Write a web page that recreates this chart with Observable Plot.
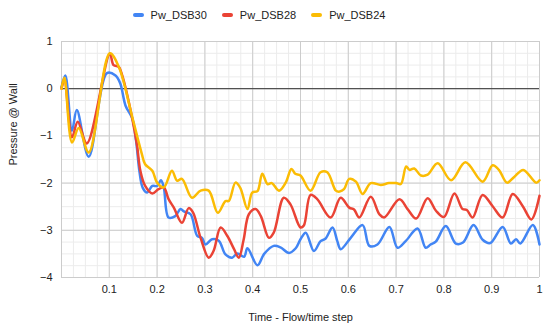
<!DOCTYPE html>
<html><head><meta charset="utf-8">
<script src="https://cdn.jsdelivr.net/npm/d3@7"></script>
<script src="https://cdn.jsdelivr.net/npm/@observablehq/plot@0.6"></script>
<style>
body{margin:0;background:#fff;font-family:"Liberation Sans",Arial,sans-serif;}
#legend{height:30px;display:flex;justify-content:center;align-items:center;font-size:11px;color:#222;padding-right:32px;box-sizing:border-box;width:550px;}
.item{display:flex;align-items:center;margin:0 7.5px;}
.sw{width:11px;height:4px;border-radius:2px;margin-right:7px;}
</style></head>
<body>
<div id="legend"></div>
<div id="chart"></div>
<script>
const seriesNames = ["Pw_DSB30", "Pw_DSB28", "Pw_DSB24"];
const seriesColors = ["#4285F4", "#EA4335", "#FBBC04"];

const t30 = [0,0.008,0.022,0.032,0.057,0.095,0.113,0.123,0.134,0.148,0.156,0.163,0.17,0.179,0.19,0.2,0.208,0.214,0.224,0.238,0.249,0.256,0.27,0.284,0.294,0.301,0.315,0.329,0.343,0.357,0.368,0.382,0.389,0.41,0.424,0.444,0.458,0.476,0.49,0.5,0.511,0.528,0.542,0.552,0.567,0.577,0.584,0.605,0.63,0.644,0.661,0.686,0.703,0.72,0.745,0.762,0.772,0.783,0.804,0.825,0.84,0.862,0.881,0.897,0.923,0.94,0.951,0.96,0.986,1.0];
const p30 = [0.03,0.28,-0.89,-0.45,-1.44,0.33,0.28,0.11,-0.36,-0.63,-1.1,-1.75,-2.1,-2.2,-2.06,-2.06,-1.94,-2.09,-2.73,-2.7,-2.55,-2.6,-2.66,-3.12,-3.16,-3.3,-3.19,-3.22,-3.51,-3.58,-3.49,-3.56,-3.38,-3.74,-3.5,-3.33,-3.36,-3.48,-3.38,-3.19,-3.05,-3.44,-3.23,-3.18,-2.94,-3.23,-3.4,-3.16,-2.89,-3.33,-3.3,-2.93,-3.37,-3.23,-2.96,-3.37,-3.3,-3.24,-2.91,-3.28,-3.26,-2.89,-3.2,-3.27,-2.93,-3.28,-3.19,-3.28,-2.89,-3.3];

const t28 = [0,0.006,0.022,0.034,0.053,0.101,0.109,0.12,0.127,0.148,0.158,0.165,0.175,0.19,0.203,0.214,0.224,0.235,0.252,0.266,0.275,0.291,0.308,0.318,0.333,0.347,0.361,0.371,0.381,0.392,0.406,0.417,0.434,0.444,0.465,0.479,0.5,0.507,0.521,0.535,0.563,0.584,0.602,0.612,0.623,0.647,0.665,0.675,0.707,0.724,0.742,0.766,0.783,0.8,0.822,0.839,0.848,0.86,0.881,0.902,0.923,0.944,0.965,0.983,1.0];
const p28 = [0,0.19,-1.03,-0.7,-1.16,0.74,0.5,0.46,0.28,-0.63,-1.2,-1.74,-2.06,-2.22,-2.13,-2.09,-2.34,-2.52,-2.84,-2.53,-2.62,-3.16,-3.58,-3.44,-2.94,-3.12,-3.4,-3.58,-3.2,-2.66,-2.55,-2.7,-3.16,-3.05,-2.31,-2.45,-2.94,-2.9,-2.25,-2.34,-2.73,-2.31,-2.52,-2.56,-2.73,-2.29,-2.66,-2.73,-2.34,-2.55,-2.75,-2.32,-2.58,-2.72,-2.22,-2.55,-2.57,-2.73,-2.25,-2.49,-2.73,-2.23,-2.49,-2.77,-2.27];

const t24 = [0,0.006,0.022,0.036,0.057,0.101,0.12,0.148,0.168,0.175,0.19,0.2,0.214,0.231,0.242,0.252,0.273,0.291,0.308,0.327,0.343,0.35,0.364,0.374,0.389,0.399,0.41,0.42,0.431,0.44,0.455,0.469,0.481,0.489,0.5,0.521,0.542,0.556,0.574,0.582,0.591,0.602,0.616,0.63,0.647,0.668,0.685,0.7,0.71,0.721,0.728,0.738,0.752,0.766,0.787,0.815,0.845,0.881,0.902,0.915,0.932,0.947,0.966,0.993,1.0];
const p24 = [0,0.23,-1.14,-0.83,-1.35,0.75,0.46,-0.6,-1.38,-1.6,-1.74,-1.99,-2.09,-1.74,-1.95,-1.91,-2.31,-2.16,-2.16,-2.63,-2.38,-2.38,-1.99,-2.1,-2.55,-2.2,-2.17,-1.8,-2.02,-2.0,-2.16,-1.99,-1.7,-1.8,-1.84,-2.16,-1.77,-1.77,-2.16,-2.18,-2.13,-1.91,-1.97,-2.23,-2.0,-2.04,-2.0,-2.0,-2.02,-1.65,-1.72,-1.69,-1.84,-1.82,-1.58,-1.94,-1.56,-1.97,-1.62,-1.72,-1.99,-1.87,-1.72,-1.99,-1.94];

const xTickValues = [0.1,0.2,0.3,0.4,0.5,0.6,0.7,0.8,0.9,1];
const yTickValues = [-4,-3,-2,-1,0,1];
const xTitle = "Time - Flow/time step";
const yTitle = "Pressure @ Wall";

const rows = [];
[[t30,p30],[t28,p28],[t24,p24]].forEach(([ts,ps],i) => {
  ts.forEach((t,j) => rows.push({series: seriesNames[i], t, v: ps[j]}));
});

const leg = document.getElementById("legend");
seriesNames.forEach((n,i) => {
  const it = document.createElement("div"); it.className="item";
  const sw = document.createElement("div"); sw.className="sw"; sw.style.background = seriesColors[i];
  const tx = document.createElement("span"); tx.textContent = n;
  it.appendChild(sw); it.appendChild(tx); leg.appendChild(it);
});

const minorX = d3.range(0, 41).map(i => i/40);
const minorY = d3.range(0, 21).map(i => -4 + i/4);

const chart = Plot.plot({
  width: 550, height: 306,
  marginTop: 11, marginBottom: 59, marginLeft: 61, marginRight: 11,
  style: {fontFamily: '"Liberation Sans", Arial, sans-serif', fontSize: "11px", color: "#222", background: "#fff"},
  x: {domain: [0, 1]},
  y: {domain: [-4, 1]},
  color: {domain: seriesNames, range: seriesColors},
  marks: [
    Plot.gridX(minorX, {stroke: "#ececec", strokeOpacity: 1}),
    Plot.gridY(minorY, {stroke: "#ececec", strokeOpacity: 1}),
    Plot.gridX([0, ...xTickValues], {stroke: "#cccccc", strokeOpacity: 1}),
    Plot.gridY(yTickValues, {stroke: "#cccccc", strokeOpacity: 1}),
    Plot.ruleY([0], {stroke: "#333", strokeWidth: 1}),
    Plot.line(rows, {x: "t", y: "v", z: "series", stroke: "series", strokeWidth: 2.5, curve: "catmull-rom", strokeLinejoin: "round"}),
    Plot.axisX({ticks: xTickValues, tickSize: 0, tickPadding: 8, tickFormat: d => String(d), label: null}),
    Plot.axisY({ticks: yTickValues, tickSize: 0, tickPadding: 9, tickFormat: d3.format("d"), label: null}),
    Plot.text([xTitle], {frameAnchor: "bottom", dy: 43, text: d => d, fontSize: 11, fill: "#222"}),
    Plot.text([yTitle], {frameAnchor: "left", dx: -48, dy: 6, rotate: -90, text: d => d, fontSize: 11, fill: "#222"})
  ]
});
document.getElementById("chart").appendChild(chart);
</script>
</body></html>
